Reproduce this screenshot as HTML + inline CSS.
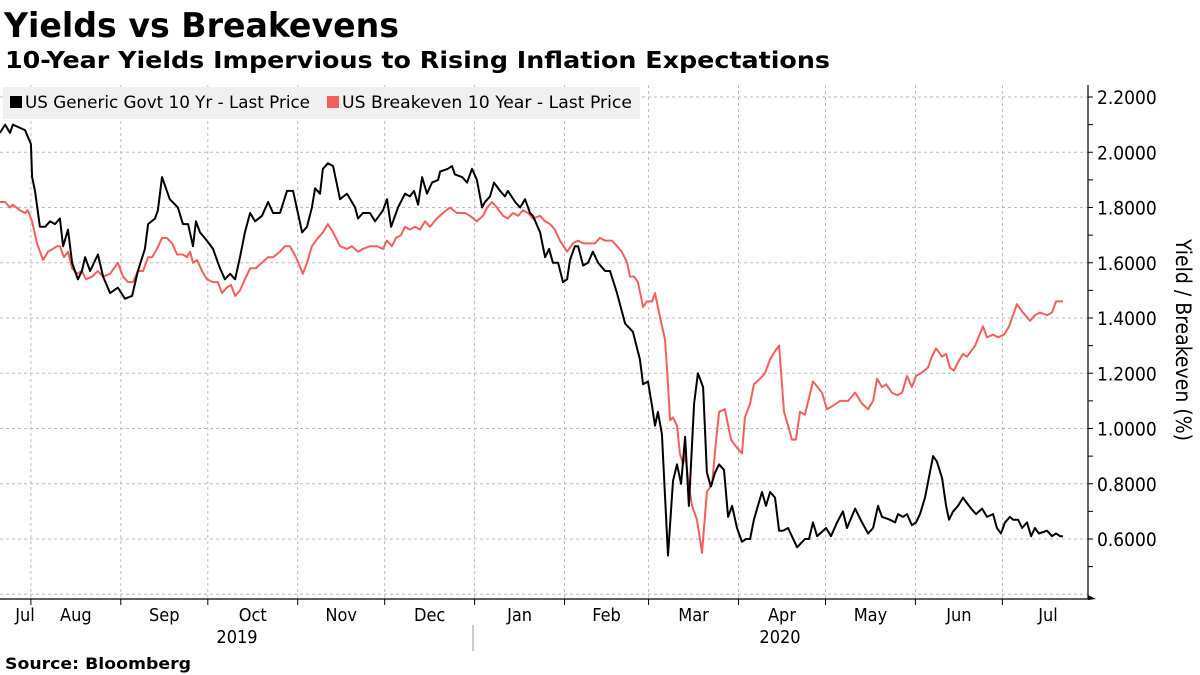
<!DOCTYPE html>
<html><head><meta charset="utf-8"><style>
html,body{margin:0;padding:0;background:#fff;width:1200px;height:675px;overflow:hidden}
svg{display:block;font-family:"DejaVu Sans Condensed","DejaVu Sans","Liberation Sans",sans-serif}
</style></head><body>
<svg id="chart" width="1200" height="675" viewBox="0 0 1200 675">
<text x="4" y="37" font-size="34" font-weight="bold" textLength="395" lengthAdjust="spacingAndGlyphs">Yields vs Breakevens</text>
<text x="5" y="68" font-size="23" font-weight="bold" textLength="825" lengthAdjust="spacingAndGlyphs">10-Year Yields Impervious to Rising Inflation Expectations</text>
<g id="grid"></g>
<rect x="3" y="87" width="637" height="32" fill="#f0f0f0"/>
<g><rect x="10" y="96" width="12" height="12" fill="#000"/><text x="25" y="108" font-size="16.5" textLength="285" lengthAdjust="spacingAndGlyphs">US Generic Govt 10 Yr - Last Price</text></g>
<g><rect x="327" y="96" width="12" height="12" fill="#f25f5c"/><text x="342" y="108" font-size="16.5" textLength="290" lengthAdjust="spacingAndGlyphs">US Breakeven 10 Year - Last Price</text></g>
<g id="series"></g>
<g id="axes"></g>
<text transform="translate(1176,340) rotate(90)" text-anchor="middle" font-size="21">Yield / Breakeven (%)</text>
<line x1="473" y1="625" x2="473" y2="651" stroke="#999" stroke-width="1"/>
<text x="237" y="643" text-anchor="middle" font-size="18">2019</text>
<text x="780" y="643" text-anchor="middle" font-size="18">2020</text>
<text x="5" y="669" font-size="16" font-weight="bold" textLength="186" lengthAdjust="spacingAndGlyphs">Source: Bloomberg</text>
</svg>
<script>
// days since 2019-07-01
const yieldDays=[20.3,22.1,23.8,24.8,29.0,31.0,31.4,32.4,34.1,35.9,37.6,39.3,41.0,42.1,43.8,45.2,47.2,48.6,49.7,51.4,54.1,55.9,58.3,61.0,63.4,65.9,67.9,70.3,71.4,73.8,74.8,76.2,78.9,81.7,83.4,85.2,86.9,87.9,89.3,91.7,93.8,96.2,97.9,99.7,101.4,103.1,104.8,106.6,108.3,110.7,112.8,114.5,116.9,119.3,121.4,124.5,126.2,127.9,129.0,130.7,131.7,133.4,135.2,137.6,140.0,142.8,143.8,145.5,147.9,149.7,152.4,153.8,155.2,157.6,160.0,161.7,163.1,164.5,165.9,167.6,169.3,171.4,172.1,174.8,176.2,177.2,179.7,181.4,183.1,184.8,186.6,187.6,189.3,190.7,192.8,194.5,195.5,198.0,199.7,201.4,203.1,204.1,206.6,208.3,209.7,211.0,212.8,214.5,215.9,216.9,218.6,219.7,221.4,223.1,224.8,226.6,229.0,230.7,233.1,235.9,238.6,241.0,242.1,243.8,245.2,246.2,247.2,248.6,250.7,252.4,253.8,255.2,256.6,257.9,259.7,261.0,262.8,264.1,265.5,266.9,268.3,270.0,271.4,272.8,274.5,276.2,277.6,279.0,280.3,281.7,283.1,284.5,285.9,287.6,289.0,290.3,292.1,293.4,295.2,297.9,299.3,300.7,302.1,305.2,306.9,309.0,311.0,312.4,315.2,317.6,319.7,321.4,323.1,324.5,327.2,329.0,330.0,331.7,333.1,334.8,336.2,337.6,339.3,342.1,343.4,345.2,346.6,347.6,349.0,350.7,352.4,353.8,355.2,356.9,359.0,360.7,362.8,364.1,365.5,366.9,368.6,369.7,371.4,372.8,374.5,375.9,377.2,378.6,381.4,383.1,384.5,385.9,386.9];
const yieldValues=[2.07,2.10,2.07,2.10,2.08,2.03,1.91,1.86,1.73,1.73,1.75,1.74,1.76,1.66,1.72,1.60,1.54,1.57,1.62,1.57,1.63,1.55,1.49,1.51,1.47,1.48,1.57,1.65,1.74,1.76,1.79,1.91,1.83,1.80,1.74,1.74,1.66,1.75,1.71,1.68,1.65,1.58,1.54,1.56,1.54,1.62,1.71,1.78,1.75,1.77,1.82,1.78,1.78,1.86,1.86,1.71,1.73,1.80,1.87,1.85,1.94,1.96,1.95,1.83,1.85,1.80,1.76,1.78,1.78,1.75,1.79,1.83,1.73,1.80,1.85,1.84,1.86,1.81,1.91,1.85,1.89,1.90,1.93,1.94,1.95,1.92,1.91,1.89,1.94,1.90,1.80,1.82,1.84,1.89,1.86,1.84,1.86,1.82,1.80,1.83,1.78,1.77,1.71,1.62,1.65,1.60,1.60,1.53,1.54,1.61,1.66,1.66,1.59,1.60,1.64,1.60,1.57,1.57,1.49,1.38,1.35,1.25,1.16,1.17,1.08,1.01,1.06,0.98,0.54,0.81,0.87,0.80,0.97,0.72,1.09,1.20,1.15,0.84,0.79,0.84,0.87,0.85,0.68,0.72,0.64,0.59,0.60,0.60,0.67,0.72,0.77,0.72,0.77,0.75,0.63,0.63,0.64,0.61,0.57,0.60,0.60,0.66,0.61,0.64,0.61,0.66,0.70,0.64,0.71,0.66,0.62,0.64,0.72,0.68,0.67,0.66,0.69,0.68,0.69,0.65,0.66,0.69,0.75,0.90,0.88,0.82,0.72,0.67,0.70,0.72,0.75,0.73,0.71,0.69,0.71,0.68,0.69,0.64,0.62,0.66,0.68,0.67,0.67,0.64,0.66,0.61,0.64,0.62,0.63,0.61,0.62,0.61,0.61];
const beDays=[20.3,22.1,23.8,24.8,27.2,29.0,29.9,31.4,33.1,35.2,36.9,38.6,40.0,41.0,42.4,43.8,45.2,46.9,48.6,50.0,52.1,54.1,55.9,58.3,61.0,62.8,64.5,66.2,67.9,69.7,71.4,72.8,74.5,76.2,77.9,79.7,81.4,83.4,84.8,85.9,86.9,88.3,90.0,91.7,93.8,95.5,96.9,98.6,100.0,101.4,103.1,104.8,106.6,108.6,110.7,112.8,114.5,116.9,118.6,120.3,122.4,124.8,126.2,127.9,130.0,131.7,133.4,135.2,137.6,140.0,141.7,143.8,145.5,147.9,150.3,152.4,153.8,155.5,156.9,158.6,160.0,161.7,163.4,165.2,166.9,168.6,171.0,173.1,175.5,177.9,180.7,182.4,184.8,186.9,188.3,190.0,191.7,193.8,195.5,197.2,199.0,200.7,202.4,204.1,206.6,208.3,210.0,211.7,213.4,215.9,217.9,219.7,221.4,223.8,225.5,227.2,229.0,231.4,233.1,234.8,236.6,237.6,239.0,240.3,242.1,243.4,245.2,246.2,248.0,249.7,250.7,251.4,252.4,253.8,254.8,255.9,256.6,257.9,259.0,260.7,262.4,264.1,265.9,267.2,268.3,270.3,272.4,274.5,276.2,277.2,279.0,280.3,282.4,284.1,285.9,287.6,289.0,290.7,292.1,293.4,294.8,296.2,297.9,300.7,303.8,305.5,307.2,310.0,312.8,315.2,317.6,319.7,321.4,322.8,324.5,325.9,327.9,329.7,331.4,333.1,334.8,336.2,337.9,340.3,341.7,343.1,345.2,346.6,347.9,349.3,350.7,352.4,353.8,356.6,359.3,360.7,362.8,364.5,366.6,368.3,371.0,373.1,375.5,377.2,379.0,381.4,383.1,384.5,386.9];
const beValues=[1.82,1.82,1.80,1.81,1.79,1.78,1.79,1.75,1.67,1.61,1.64,1.65,1.66,1.66,1.62,1.64,1.58,1.56,1.57,1.54,1.55,1.57,1.55,1.56,1.60,1.55,1.53,1.53,1.57,1.57,1.62,1.62,1.65,1.69,1.69,1.67,1.63,1.63,1.62,1.64,1.60,1.61,1.57,1.54,1.53,1.53,1.49,1.51,1.52,1.48,1.50,1.54,1.58,1.58,1.60,1.62,1.62,1.64,1.66,1.66,1.62,1.56,1.60,1.66,1.69,1.71,1.74,1.71,1.66,1.65,1.66,1.64,1.65,1.66,1.66,1.65,1.68,1.66,1.69,1.70,1.73,1.72,1.73,1.72,1.75,1.73,1.76,1.78,1.80,1.78,1.78,1.77,1.75,1.77,1.80,1.82,1.80,1.77,1.76,1.78,1.77,1.79,1.78,1.76,1.77,1.75,1.74,1.72,1.68,1.64,1.67,1.68,1.67,1.67,1.67,1.69,1.68,1.68,1.66,1.64,1.60,1.55,1.55,1.53,1.44,1.46,1.46,1.49,1.40,1.32,1.16,1.03,1.04,1.01,0.91,0.87,0.91,0.79,0.72,0.67,0.55,0.77,0.80,0.95,1.06,1.07,0.96,0.93,0.91,1.04,1.09,1.16,1.18,1.20,1.25,1.28,1.30,1.06,1.01,0.96,0.96,1.06,1.05,1.17,1.13,1.07,1.08,1.10,1.10,1.13,1.09,1.07,1.10,1.18,1.15,1.16,1.13,1.12,1.13,1.19,1.15,1.19,1.20,1.22,1.26,1.29,1.26,1.27,1.22,1.21,1.24,1.27,1.26,1.30,1.37,1.33,1.34,1.33,1.34,1.37,1.45,1.42,1.39,1.41,1.42,1.41,1.42,1.46,1.46];
const yTicks=[0.6,0.8,1.0,1.2,1.4,1.6,1.8,2.0,2.2];
const monthLabels=["Jul","Aug","Sep","Oct","Nov","Dec","Jan","Feb","Mar","Apr","May","Jun","Jul"];
const monthStarts=[0,31,62,92,123,153,184,215,244,275,305,336,366];

const NS="http://www.w3.org/2000/svg";
const X0=0,X1=1088,YT=85,YB=599;
const xScale=d=>-59+2.9*d;
const yScale=v=>539-(v-0.6)/0.2*55.25;
function mk(tag,attrs,parent){const e=document.createElementNS(NS,tag);for(const k in attrs)e.setAttribute(k,attrs[k]);parent.appendChild(e);return e;}
const grid=document.getElementById('grid'),axes=document.getElementById('axes'),series=document.getElementById('series');
// horizontal gridlines
for(const t of yTicks.concat([0.4])){
  const y=yScale(t);
  const l=mk('line',{x1:X0,x2:X1,y1:y,y2:y,stroke:'#bbb','stroke-dasharray':'3,3','stroke-width':1},grid);
  
  
}
// vertical gridlines + ticks + month labels
monthStarts.forEach((d,i)=>{
  const x=xScale(d);
  if(i>0&&x<X1){
    const l=mk('line',{x1:x,x2:x,y1:YT,y2:YB,stroke:'#bbb','stroke-dasharray':'3,3','stroke-width':1},grid);
    
    
    const tk=mk('line',{x1:x,x2:x,y1:YB,y2:YB+6,stroke:'#000','stroke-width':1},axes);
    
    
  }
  const next=i<monthStarts.length-1?monthStarts[i+1]:d+31;
  let cx=xScale((d+next)/2);
  if(i===0)cx=25;
  if(i===monthLabels.length-1)cx=1048;
  const tx=mk('text',{x:cx,y:621,'text-anchor':'middle','font-size':18},axes);
  tx.textContent=monthLabels[i];
  
  
});
// axes lines
const ax=mk('line',{x1:X0,x2:X1,y1:YB,y2:YB,stroke:'#000','stroke-width':1.2},axes);


const ay=mk('line',{x1:X1,x2:X1,y1:YT,y2:YB,stroke:'#000','stroke-width':1.2},axes);


const arrow=mk('path',{d:`M${X1} ${YB-4} L${X1+8} ${YB} L${X1} ${YB+1}Z`,fill:'#000'},axes);


for(let v=0.5;v<=2.25;v+=0.1){
  const y=yScale(v);
  const tk=mk('line',{x1:X1,x2:X1+5,y1:y,y2:y,stroke:'#000','stroke-width':1},axes);
  
  
}
yTicks.forEach(t=>{
  const tx=mk('text',{x:1097,y:yScale(t)+7,'font-size':19},axes);
  tx.textContent=t.toFixed(4);
  
  
});
function line(days,vals,color,name){
  const d=days.map((dd,i)=>(i?'L':'M')+xScale(dd).toFixed(1)+' '+yScale(vals[i]).toFixed(1)).join('');
  const p=mk('path',{d:d,fill:'none',stroke:color,'stroke-width':2,'stroke-linejoin':'round'},series);
  
  
}
line(beDays,beValues,'#f25f5c','breakeven-line');
line(yieldDays,yieldValues,'#000','yield-line');
</script>
</body></html>
